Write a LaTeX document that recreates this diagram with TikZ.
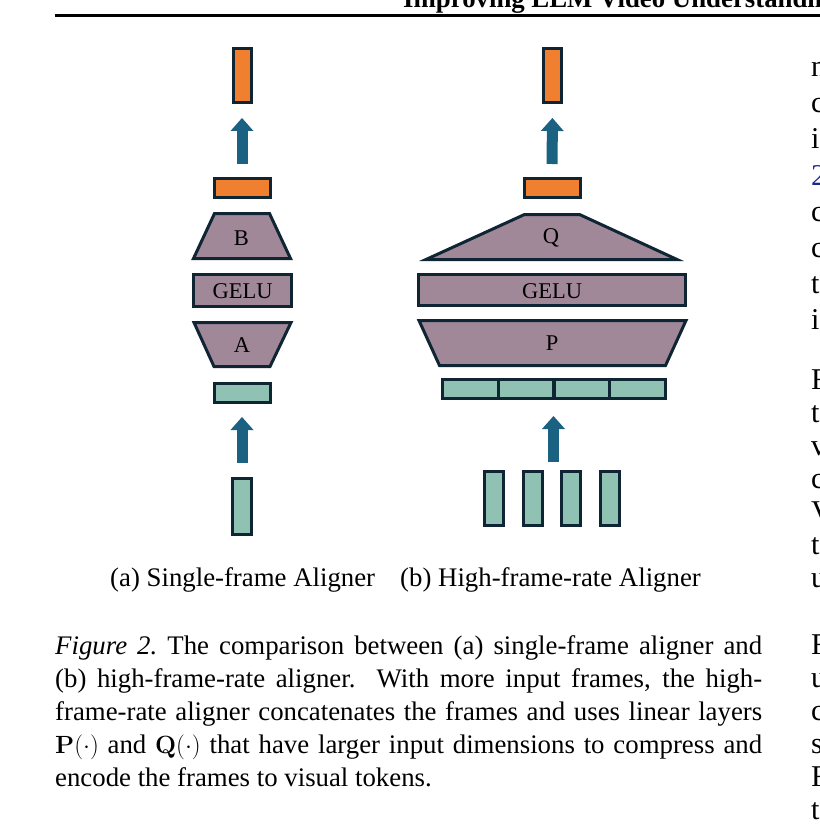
\documentclass[tikz,border=0pt]{standalone}
\usepackage[no-math]{fontspec}
\setmainfont{Liberation Serif}
\usetikzlibrary{arrows.meta}
\definecolor{orng}{RGB}{240,128,48}
\definecolor{mauve}{RGB}{161,136,153}
\definecolor{tealc}{RGB}{144,194,179}
\definecolor{edge}{RGB}{16,37,52}
\definecolor{arrowc}{RGB}{27,98,130}
\definecolor{citeblue}{RGB}{30,40,140}
\tikzset{
  blk/.style={draw=edge, line width=3pt, inner sep=0pt},
  orangebox/.style={blk, fill=orng},
  tealbox/.style={blk, fill=tealc},
  mauvebox/.style={blk, fill=mauve},
  trap/.style={draw=edge, line width=3pt, fill=mauve},
  bigarrow/.style={draw=arrowc, line width=11pt,
    -{Triangle[length=13pt,width=23pt,line width=0pt,fill=arrowc]}},
  lbl/.style={inner sep=0pt, anchor=base, font=\fontsize{22.5pt}{27pt}\selectfont},
  captxt/.style={inner sep=0pt, anchor=base west, font=\fontsize{26.8pt}{33pt}\selectfont},
  coltxt/.style={inner sep=0pt, anchor=base west, font=\fontsize{30.2pt}{36pt}\selectfont},
}
\begin{document}
\begin{tikzpicture}[x=1pt,y=-1pt]
\useasboundingbox (0,0) rectangle (819,824);
\fill[white] (0,0) rectangle (819,824);

% running head
\node[captxt, font=\fontsize{26.8pt}{33pt}\selectfont\bfseries] (head) at (403,8) {Improving LLM Video Understanding};
\draw[line width=2.5pt] (55,15.3) coordinate (r0) -- (830,15.3) coordinate (r1);

% (a) single-frame aligner
\node[orangebox, minimum width=18pt, minimum height=54pt] (outA) at (242,75.5) {};
\node[orangebox, minimum width=56pt, minimum height=19pt] (tokA) at (242,188) {};
\draw[trap] (214.5,213.5) -- (269.5,213.5) -- (290.5,258.5) -- (193.5,258.5) -- cycle;
\node[lbl] (B) at (241.5,245) {B};
\node[mauvebox, minimum width=98pt, minimum height=32pt] (gA) at (242.5,290.5) {};
\node[lbl] (gelua) at (242.5,298) {GELU};
\draw[trap] (194,322.5) -- (291,322.5) -- (270,366.5) -- (214,366.5) -- cycle;
\node[lbl] (A) at (242,352) {A};
\node[tealbox, minimum width=56pt, minimum height=19pt] (inA) at (242,393) {};
\node[tealbox, minimum width=19pt, minimum height=56pt] (frA) at (242,506.5) {};
\draw[bigarrow, shorten <=13pt, shorten >=14pt] (tokA.north) -- (outA.south);
\draw[bigarrow, shorten <=14pt, shorten >=13pt] (frA.north) -- (inA.south);

% (b) high-frame-rate aligner
\node[orangebox, minimum width=18pt, minimum height=54pt] (outB) at (552.5,75.5) {};
\node[orangebox, minimum width=56pt, minimum height=19pt] (tokB) at (552,188) {};
\draw[trap] (524.5,214.5) -- (579.5,214.5) -- (677,259.5) -- (426,259.5) -- cycle;
\node[lbl] (Q) at (551,243) {Q};
\node[mauvebox, minimum width=267pt, minimum height=31pt] (gB) at (552,290) {};
\node[lbl] (gelub) at (552,298) {GELU};
\draw[trap] (419,320.5) -- (686,320.5) -- (665.5,365.5) -- (439.5,365.5) -- cycle;
\node[lbl] (P) at (552,350) {P};
\node[tealbox, minimum width=55.75pt, minimum height=19pt] (c1) at (470.4,389) {};
\node[tealbox, minimum width=55.75pt, minimum height=19pt] (c2) at (526.1,389) {};
\node[tealbox, minimum width=55.75pt, minimum height=19pt] (c3) at (581.9,389) {};
\node[tealbox, minimum width=55.75pt, minimum height=19pt] (c4) at (637.6,389) {};
\node[tealbox, minimum width=19pt, minimum height=54pt] (f1) at (494,498.5) {};
\node[tealbox, minimum width=19pt, minimum height=54pt] (f2) at (532.5,498.5) {};
\node[tealbox, minimum width=19pt, minimum height=54pt] (f3) at (571,498.5) {};
\node[tealbox, minimum width=19pt, minimum height=54pt] (f4) at (609.5,498.5) {};
\coordinate (fin) at (553.5,470);
\coordinate (bartop) at (553.5,400);
\draw[bigarrow, shorten <=13pt, shorten >=14pt] (tokB.north) -- (outB.south);
\draw[bigarrow, shorten <=8pt, shorten >=16pt] (fin) -- (bartop);

% sub-captions
\node[captxt] (capa) at (110,586) {(a) Single-frame Aligner};
\node[captxt] (capb) at (400,586) {(b) High-frame-rate Aligner};

% figure caption
\node[captxt] (l1) at (55,654) {\makebox[707pt][s]{\textit{Figure 2.}\ The comparison between (a) single-frame aligner and}};
\node[captxt] (l2) at (55,687) {\makebox[707pt][s]{(b) high-frame-rate aligner.\ \ With more input frames, the high-}};
\node[captxt] (l3) at (55,720) {\makebox[707pt][s]{frame-rate aligner concatenates the frames and uses linear layers}};
\node[captxt] (l4) at (55,753) {\makebox[707pt][s]{$\mathbf{P}(\cdot)$ and $\mathbf{Q}(\cdot)$ that have larger input dimensions to compress and}};
\node[captxt] (l5) at (55,786) {encode the frames to visual tokens.};

% right column fragments
\node[coltxt] (k1) at (811,77) {n};
\node[coltxt] (k2) at (811,113) {c};
\node[coltxt] (k3) at (811,149) {i};
\node[coltxt, text=citeblue] (k4) at (811,185) {2};
\node[coltxt] (k5) at (811,221) {c};
\node[coltxt] (k6) at (811,257) {c};
\node[coltxt] (k7) at (811,293) {t};
\node[coltxt] (k8) at (811,329) {i};
\node[coltxt] (m1) at (811,389) {F};
\node[coltxt] (m2) at (811,422) {t};
\node[coltxt] (m3) at (811,455) {v};
\node[coltxt] (m4) at (811,488) {c};
\node[coltxt] (m5) at (811,521) {V};
\node[coltxt] (m6) at (811,554) {t};
\node[coltxt] (m7) at (811,587) {u};
\node[coltxt] (q1) at (811,654) {F};
\node[coltxt] (q2) at (811,687) {u};
\node[coltxt] (q3) at (811,720) {c};
\node[coltxt] (q4) at (811,753) {s};
\node[coltxt] (q5) at (811,786) {F};
\node[coltxt] (q6) at (811,819) {t};
\end{tikzpicture}
\end{document}
